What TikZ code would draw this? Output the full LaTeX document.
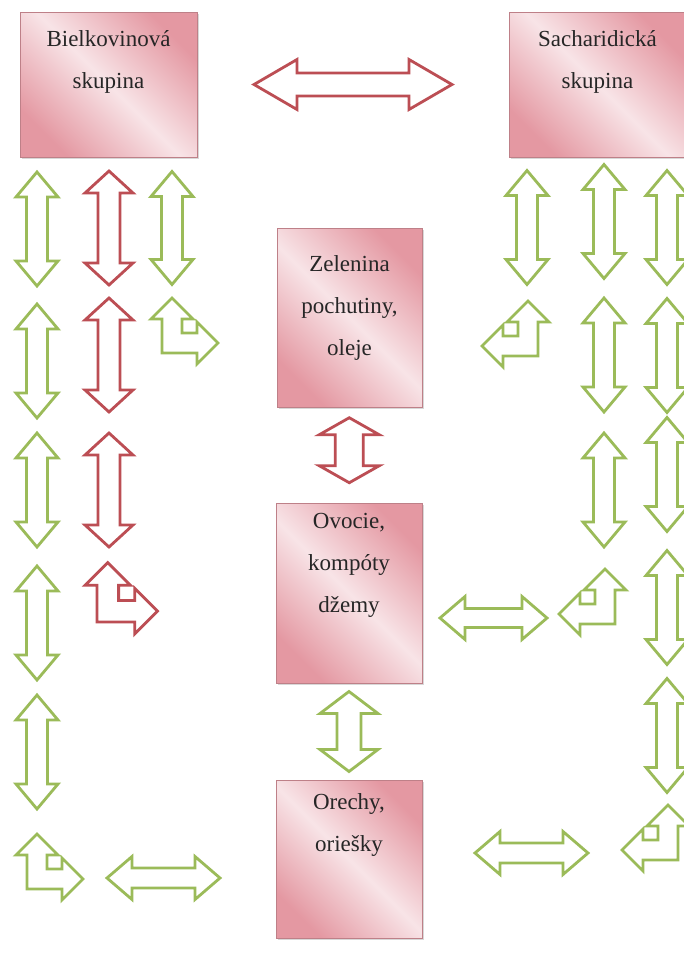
\documentclass[tikz,border=0pt]{standalone}
\usepackage{fontspec}
\setmainfont{Liberation Serif}
\usetikzlibrary{calc, shadows}

\definecolor{arrgreen}{RGB}{155,187,89}
\definecolor{arrred}{RGB}{188,78,84}
\definecolor{boxdark}{RGB}{228,152,162}
\definecolor{boxlight}{RGB}{248,228,231}
\definecolor{boxline}{RGB}{190,128,136}

% block double arrow: style, centre, angle, half length, shaft half width, head half width, head length
\newcommand{\dblarr}[7]{%
  \draw[shift={#2}, rotate=#3, #1] (-#4,0) -- (-#4+#7,#6) -- (-#4+#7,#5) -- (#4-#7,#5) -- (#4-#7,#6) -- (#4,0) -- (#4-#7,-#6) -- (#4-#7,-#5) -- (-#4+#7,-#5) -- (-#4+#7,-#6) -- cycle;}
% bent block arrow (up + side): style, outer corner, xscale
\newcommand{\bentarr}[3]{%
  \draw[shift={#2}, xscale=#3, #1] (0,0) -- (35,0) -- (35,11) -- (56,-10) -- (35,-31) -- (35,-20) -- (20,-20) -- (20,-34) -- (31,-34) -- (10,-55) -- (-11,-34) -- (0,-34) -- cycle;}

\tikzset{
  grp/.style={draw=boxline, line width=0.6pt, inner sep=0pt,
    left color=boxdark, right color=boxdark, middle color=boxlight, shading angle=135,
    drop shadow={shadow xshift=1.5pt, shadow yshift=-1.5pt, opacity=0.3}},
  txt/.style={anchor=base, align=center, font=\fontsize{23}{42}\selectfont, text=black!85},
  garr/.style={draw=arrgreen, line width=2.8pt, fill=white},
  rarr/.style={draw=arrred, line width=2.8pt, fill=white}
}

\begin{document}
\begin{tikzpicture}[x=1pt, y=-1pt]
\useasboundingbox (0,0) rectangle (684,972);
\fill[white] (0,0) rectangle (684,972);

% food groups
\node[grp, minimum width=177pt, minimum height=145pt] (bielk) at (108.5,84.5) {};
\node[grp, minimum width=177pt, minimum height=145pt] (sach) at (597.5,84.5) {};
\node[grp, minimum width=145pt, minimum height=179pt] (zel) at (349.5,317.5) {};
\node[grp, minimum width=146pt, minimum height=180pt] (ovo) at (349,593) {};
\node[grp, minimum width=146pt, minimum height=158pt] (ore) at (349,859) {};

% texts (base = last line)
\node[txt] (bielktxt) at ([yshift=-77pt]bielk.north) {Bielkovinová\\skupina};
\node[txt] (sachtxt) at ([yshift=-77pt]sach.north) {Sacharidická\\skupina};
\node[txt] (zeltxt) at ([yshift=-128pt]zel.north) {Zelenina\\pochutiny,\\oleje};
\node[txt] (ovotxt) at ([yshift=-110pt]ovo.north) {Ovocie,\\kompóty\\džemy};
\node[txt] (oretxt) at ([yshift=-72pt]ore.north) {Orechy,\\oriešky};

% arrows between the groups
\dblarr{rarr}{($(bielk.east)!0.5!(sach.west)$)}{0}{99}{11.5}{25}{43}
\dblarr{rarr}{($(zel.south)!0.45!(ovo.north)$)}{90}{32.5}{14}{30}{17}
\dblarr{garr}{($(ovo.south)!0.5!(ore.north)$)}{90}{40}{12}{29}{22}
\dblarr{garr}{(493.5,618)}{0}{53.5}{9.5}{21.5}{25}
\dblarr{garr}{(163.5,878)}{0}{56.5}{10}{21.5}{25}
\dblarr{garr}{(531.5,853)}{0}{56.5}{10}{21.5}{25}

% left columns
\foreach \y in {229,361,490,623,752} {\dblarr{garr}{(37,\y)}{90}{57}{10.5}{21}{25}}
\foreach \y in {228,355,490} {\dblarr{rarr}{(109,\y)}{90}{57}{11}{24}{22}}
\dblarr{garr}{(172,228)}{90}{56.5}{10.5}{21}{25}
\bentarr{garr}{(162,353)}{1}
\bentarr{rarr, scale=1.08}{(97,622)}{1}
\bentarr{garr}{(27,889)}{1}

% right columns
\dblarr{garr}{(527,227.5)}{90}{57}{10.5}{21}{25}
\foreach \y in {221.5,355,490} {\dblarr{garr}{(604,\y)}{90}{57}{10.5}{21}{25}}
\foreach \y in {227.5,355.5,474.5,607.5,735.5} {\dblarr{garr}{(667,\y)}{90}{57}{10.5}{21}{25}}
\bentarr{garr}{(538,356)}{-1}
\bentarr{garr}{(615,624)}{-1}
\bentarr{garr}{(678,860)}{-1}
\end{tikzpicture}
\end{document}
